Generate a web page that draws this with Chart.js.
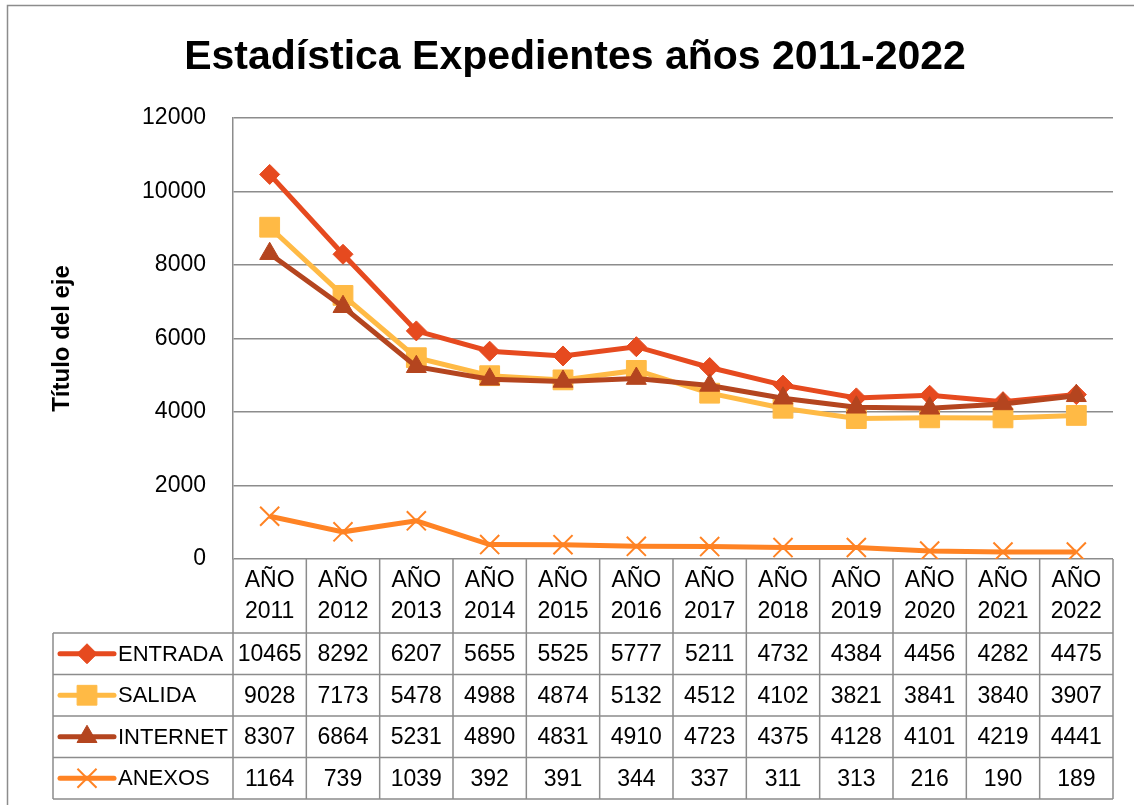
<!DOCTYPE html>
<html>
<head>
<meta charset="utf-8">
<script src="https://cdn.jsdelivr.net/npm/chart.js@4.4.1/dist/chart.umd.min.js"></script>
<style>
  html, body { margin: 0; padding: 0; background: #fff; }
  #wrap { width: 1134px; height: 805px; }
</style>
</head>
<body>
<div id="wrap"><canvas id="chart" width="1134" height="805"></canvas></div>
<script>
'use strict';

// data
const years = ['2011', '2012', '2013', '2014', '2015', '2016', '2017', '2018', '2019', '2020', '2021', '2022'];
const seriesNames = ['ENTRADA', 'SALIDA', 'INTERNET', 'ANEXOS'];
const entrada = [10465, 8292, 6207, 5655, 5525, 5777, 5211, 4732, 4384, 4456, 4282, 4475];
const salida = [9028, 7173, 5478, 4988, 4874, 5132, 4512, 4102, 3821, 3841, 3840, 3907];
const internet = [8307, 6864, 5231, 4890, 4831, 4910, 4723, 4375, 4128, 4101, 4219, 4441];
const anexos = [1164, 739, 1039, 392, 391, 344, 337, 311, 313, 216, 190, 189];
const yMin = 0;
const yMax = 12000;
const yStep = 2000;

const FONT = "'Liberation Sans', Arial, sans-serif";
const GRID = '#8c8c8c';
Chart.defaults.font.family = FONT;
Chart.defaults.color = '#000';

//one line per series; marker look copied from the excel chart
function makeSeries(label, data, color, style, radius, pointBorder, order){
  return {
    label: label,
    data: data,
    borderColor: color,
    backgroundColor: color,
    borderWidth: 5,
    pointStyle: style,
    pointRadius: radius,
    pointBorderWidth: pointBorder,
    pointBackgroundColor: color,
    pointBorderColor: color,
    tension: 0,
    order: order
  };
}

const datasets = [
  makeSeries(seriesNames[0], entrada, '#E64A1F', 'rectRot', 10, 1, 4),
  makeSeries(seriesNames[1], salida, '#FFBA45', 'rect', 14, 1, 3),
  makeSeries(seriesNames[2], internet, '#B4451F', 'triangle', 11.5, 1, 2),
  makeSeries(seriesNames[3], anexos, '#FF8324', 'crossRot', 13.5, 2, 1)
];

//grey frame round the whole chart, like the excel chart object
const framePlugin = {
  id: 'frame',
  beforeDraw(chart){
    let ctx = chart.ctx;
    ctx.save();
    ctx.fillStyle = '#fff';
    ctx.fillRect(0, 0, chart.width, chart.height);
    ctx.strokeStyle = GRID;
    ctx.lineWidth = 1.5;
    ctx.strokeRect(7.5, 5.5, chart.width + 20, chart.height + 20);
    ctx.restore();
  }
};

//data table under the plot, columns taken from the x scale
const tablePlugin = {
  id: 'dataTable',
  afterDraw(chart){
    let ctx = chart.ctx;
    let area = chart.chartArea;
    let xs = chart.scales.x;
    let n = years.length;
    let headerBottom = area.bottom + 74;
    let rowH = 41.5;
    let tableBottom = headerBottom + rowH * chart.data.datasets.length;
    let legendLeft = 53;

    let bounds = [area.left];
    for (let i = 1; i < n; i++){
      bounds.push((xs.getPixelForValue(i - 1) + xs.getPixelForValue(i)) / 2);
    }
    bounds.push(area.right);

    ctx.save();
    ctx.strokeStyle = GRID;
    ctx.lineWidth = 1.5;
    ctx.beginPath();
    for (let b of bounds){
      ctx.moveTo(b, area.bottom);
      ctx.lineTo(b, tableBottom);
    }
    ctx.moveTo(legendLeft, headerBottom);
    ctx.lineTo(legendLeft, tableBottom);
    for (let r = 0; r <= chart.data.datasets.length; r++){
      let y = headerBottom + rowH * r;
      ctx.moveTo(legendLeft, y);
      ctx.lineTo(area.right, y);
    }
    ctx.stroke();

    //header: two lines per year
    ctx.fillStyle = '#000';
    ctx.font = '23px ' + FONT;
    ctx.textAlign = 'center';
    ctx.textBaseline = 'middle';
    for (let i = 0; i < n; i++){
      let cx = xs.getPixelForValue(i);
      ctx.fillText('AÑO', cx, area.bottom + 22);
      ctx.fillText(years[i], cx, area.bottom + 53);
    }

    //rows: legend key, name, values
    chart.data.datasets.forEach(function(ds, r){
      let cy = headerBottom + rowH * (r + 0.5);
      ctx.strokeStyle = ds.borderColor;
      ctx.lineWidth = ds.borderWidth;
      ctx.lineCap = 'round';
      ctx.beginPath();
      ctx.moveTo(60, cy);
      ctx.lineTo(114, cy);
      ctx.stroke();
      ctx.lineCap = 'butt';
      ctx.fillStyle = ds.pointBackgroundColor;
      ctx.strokeStyle = ds.pointBorderColor;
      ctx.lineWidth = ds.pointBorderWidth;
      Chart.helpers.drawPoint(ctx, {
        pointStyle: ds.pointStyle,
        radius: ds.pointRadius,
        borderWidth: ds.pointBorderWidth,
        rotation: 0
      }, 87, cy);

      ctx.fillStyle = '#000';
      ctx.font = '22px ' + FONT;
      ctx.textAlign = 'left';
      ctx.fillText(ds.label, 118, cy + 1);
      ctx.font = '23px ' + FONT;
      ctx.textAlign = 'center';
      for (let i = 0; i < n; i++){
        ctx.fillText(String(ds.data[i]), xs.getPixelForValue(i), cy + 1);
      }
    });
    ctx.restore();
  }
};

const config = {
  type: 'line',
  data: {
    labels: years.map(y => 'AÑO ' + y),
    datasets: datasets
  },
  options: {
    responsive: false,
    animation: false,
    events: [],
    layout: {padding: {left: 37, right: 21, top: 0, bottom: 246}},
    plugins: {
      legend: {display: false},
      tooltip: {enabled: false},
      title: {
        display: true,
        text: 'Estadística Expedientes años 2011-2022',
        color: '#000',
        font: {family: FONT, size: 41, weight: 'bold'},
        padding: {top: 33, bottom: 35.8}
      }
    },
    scales: {
      x: {display: false, offset: true},
      y: {
        min: yMin,
        max: yMax,
        ticks: {
          stepSize: yStep,
          color: '#000',
          font: {size: 23},
          padding: 27,
          callback: value => String(value)
        },
        grid: {color: GRID, lineWidth: 1.5, drawTicks: false},
        border: {display: true, color: GRID, width: 1.5},
        title: {
          display: true,
          text: 'Título del eje',
          color: '#000',
          font: {size: 24, weight: 'bold'},
          padding: {top: 10.6, bottom: 0}
        },
        afterFit(scale){ scale.width = 196; }
      }
    }
  },
  plugins: [framePlugin, tablePlugin]
};

new Chart(document.getElementById('chart'), config);
</script>
</body>
</html>
